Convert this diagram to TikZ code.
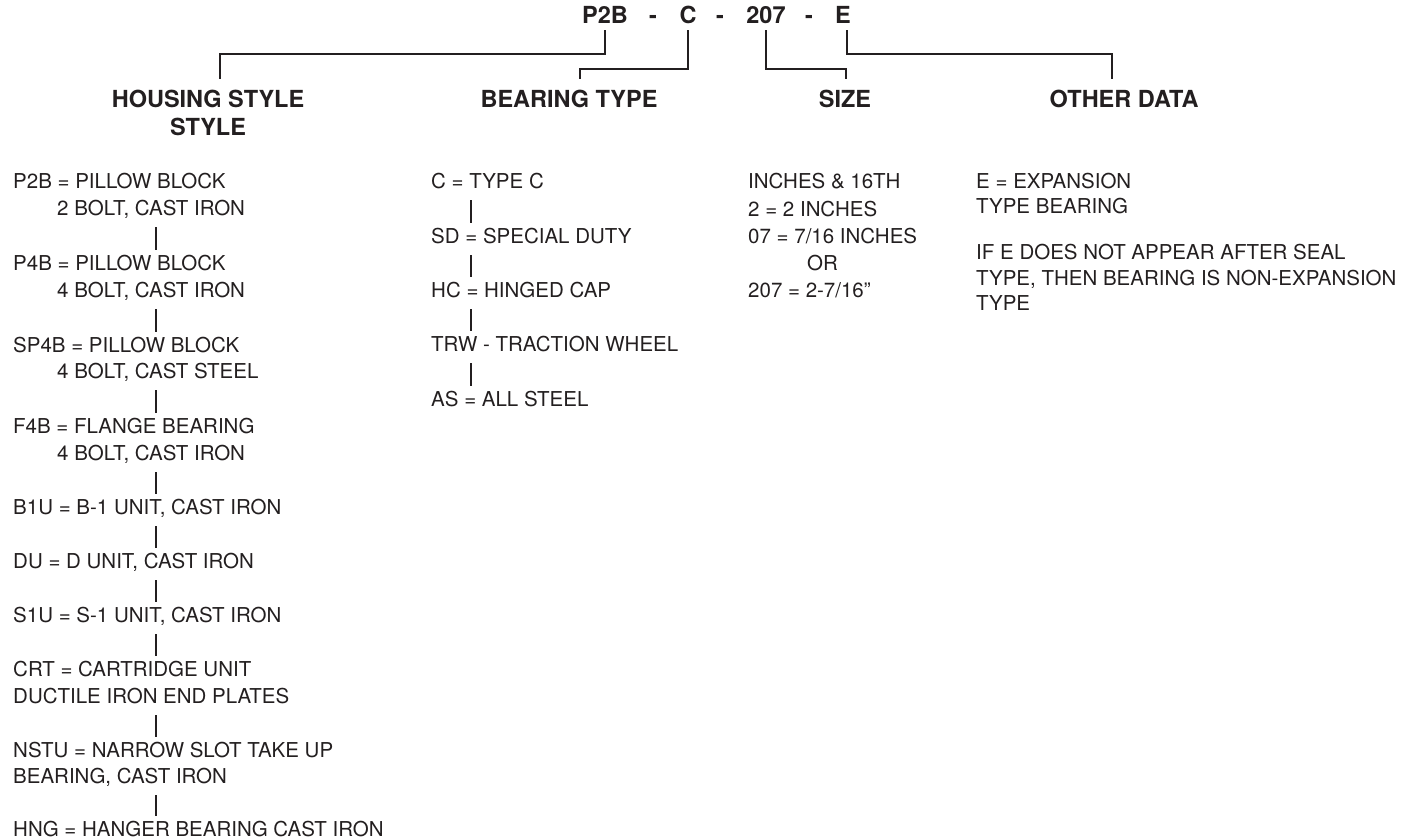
\documentclass[tikz,border=0pt]{standalone}
\usepackage{fontspec}
\setmainfont{TeX Gyre Heros}
\usetikzlibrary{calc}
\definecolor{ink}{HTML}{231F20}
\newcommand\bodyfont{\fontsize{20.5}{27}\selectfont}
\newcommand\headfont{\fontsize{23.5}{27}\selectfont\bfseries}
\begin{document}
\begin{tikzpicture}[x=1pt,y=-1pt,
 txt/.style={anchor=base west, inner sep=0pt, font=\bodyfont, text=ink},
 hd/.style={anchor=base, inner sep=0pt, outer ysep=11pt, font=\headfont, text=ink},
 ttl/.style={anchor=base, inner sep=0pt, outer ysep=7pt, font=\headfont, text=ink},
 wire/.style={draw=ink, line width=1.4pt},
 bar/.style={draw=ink, line width=1.2pt}]
\useasboundingbox (0,0) rectangle (1421,838);
% title
\node[ttl] (p2b) at (605,23) {P2B};
\node[ttl] (d1) at (653,23) {-};
\node[ttl] (c) at (688,23) {C};
\node[ttl] (d2) at (720,23) {-};
\node[ttl] (s207) at (766,23) {207};
\node[ttl] (d3) at (809,23) {-};
\node[ttl] (e) at (843,23) {E};
% headers
\node[hd] (hs) at (208,107) {HOUSING STYLE};
\node[hd] (hs2) at (208,135) {STYLE};
\node[hd] (bt) at (569,107) {BEARING TYPE};
\node[hd] (sz) at (845,107) {SIZE};
\node[hd] (od) at (1124,107) {OTHER DATA};
\coordinate (hy) at (0,54);
\coordinate (ly) at (0,69);
\draw[wire] (p2b.south) -- (p2b.south |- hy) -| ([xshift=12pt]hs.north);
\draw[wire] (c.south) -- (c.south |- ly) -| ([xshift=11pt]bt.north);
\draw[wire] (s207.south) -- (s207.south |- ly) -| ([xshift=1pt]sz.north);
\draw[wire] ([xshift=4pt]e.south) -- ([xshift=4pt]e.south |- hy) -| ([xshift=-12pt]od.north);
% left column
\node[txt] (a1) at (13,188) {P2B = PILLOW BLOCK};
\node[txt] (a2) at (57,215) {2 BOLT, CAST IRON};
\node[txt] (b1) at (13,270) {P4B = PILLOW BLOCK};
\node[txt] (b2) at (57,297) {4 BOLT, CAST IRON};
\node[txt] (c1) at (13,352) {SP4B = PILLOW BLOCK};
\node[txt] (c2) at (57,378) {4 BOLT, CAST STEEL};
\node[txt] (f1) at (13,433) {F4B = FLANGE BEARING};
\node[txt] (f2) at (57,460) {4 BOLT, CAST IRON};
\node[txt] (g1) at (13,514) {B1U = B-1 UNIT, CAST IRON};
\node[txt] (h1) at (13,568) {DU = D UNIT, CAST IRON};
\node[txt] (i1) at (13,622) {S1U = S-1 UNIT, CAST IRON};
\node[txt] (j1) at (13,676) {CRT = CARTRIDGE UNIT};
\node[txt] (j2) at (13,703) {DUCTILE IRON END PLATES};
\node[txt] (k1) at (13,757) {NSTU = NARROW SLOT TAKE UP};
\node[txt] (k2) at (13,783) {BEARING, CAST IRON};
\node[txt] (l1) at (13,836) {HNG = HANGER BEARING CAST IRON};
\coordinate (lx) at (156,0);
\foreach \u/\v in {a2/b1,b2/c1,c2/f1,f2/g1,g1/h1,h1/i1,i1/j1,j2/k1,k2/l1}
  \draw[bar] ($(lx |- \u.base)+(0,12)$) -- ($(lx |- \v.base)+(0,-20)$);
% bearing type column
\node[txt] (m1) at (431,188) {C = TYPE C};
\node[txt] (m2) at (431,243) {SD = SPECIAL DUTY};
\node[txt] (m3) at (431,297) {HC = HINGED CAP};
\node[txt] (m4) at (431,351) {TRW - TRACTION WHEEL};
\node[txt] (m5) at (431,406) {AS = ALL STEEL};
\coordinate (mx) at (471,0);
\foreach \u/\v in {m1/m2,m2/m3,m3/m4,m4/m5}
  \draw[bar] ($(mx |- \u.base)+(0,12)$) -- ($(mx |- \v.base)+(0,-20)$);
% size column
\node[txt] (s1) at (748,188) {INCHES \& 16TH};
\node[txt] (s2) at (748,216) {2 = 2 INCHES};
\node[txt] (s3) at (748,243) {07 = 7/16 INCHES};
\node[txt] (s4) at (807,270) {OR};
\node[txt] (s5) at (748,297) {207 = 2-7/16”};
% other data column
\node[txt] (o1) at (976,188) {E = EXPANSION};
\node[txt] (o2) at (976,213) {TYPE BEARING};
\node[txt] (o3) at (976,259) {IF E DOES NOT APPEAR AFTER SEAL};
\node[txt] (o4) at (976,285) {TYPE, THEN BEARING IS NON-EXPANSION};
\node[txt] (o5) at (976,310) {TYPE};
\end{tikzpicture}
\end{document}
